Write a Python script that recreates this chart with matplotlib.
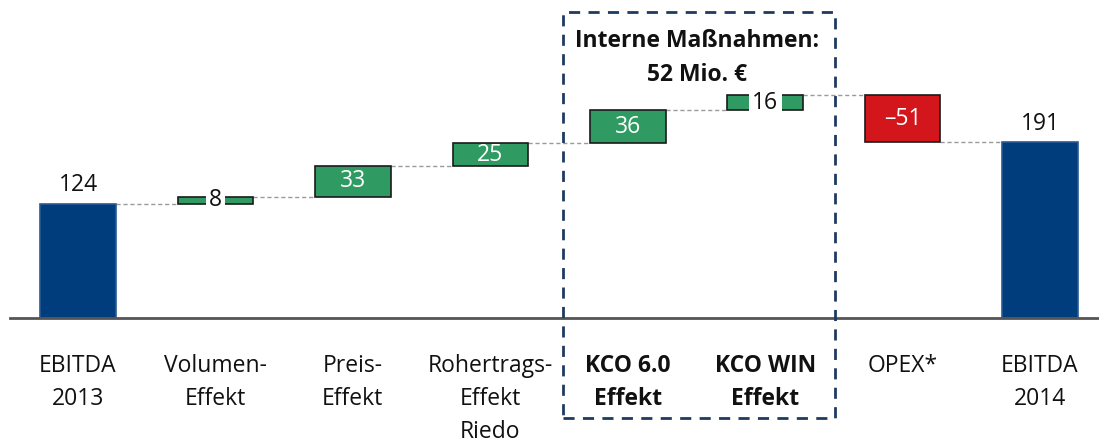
import matplotlib.pyplot as plt
from matplotlib.patches import Rectangle

# waterfall data
labels = ['EBITDA\n2013', 'Volumen-\nEffekt', 'Preis-\nEffekt', 'Rohertrags-\nEffekt\nRiedo',
          'KCO 6.0\nEffekt', 'KCO WIN\nEffekt', 'OPEX*', 'EBITDA\n2014']
values = [124, 8, 33, 25, 36, 16, -51, 191]
kinds = ['total', 'delta', 'delta', 'delta', 'delta', 'delta', 'delta', 'total']
value_text = ['124', '8', '33', '25', '36', '16', '\u201351', '191']
bold_ticks = [4, 5]
box_title = 'Interne Maßnahmen:\n52 Mio. €'

BLUE = '#003d7c'
GREEN = '#2f9a62'
RED = '#d2161c'
NAVY = '#1f3a60'

plt.rcParams['font.family'] = ['Open Sans', 'DejaVu Sans']

fig = plt.figure(figsize=(10.99, 4.43), dpi=100)
ax = fig.add_axes([0, 125 / 443, 1, 318 / 443])
ax.set_xlim(-0.5676, 7.429)
ax.set_ylim(0, 345.6)
for s in ax.spines.values():
    s.set_visible(False)
ax.set_yticks([])

w = 0.55
running = 0
levels = []
for i, (v, k) in enumerate(zip(values, kinds)):
    if k == 'total':
        bottom, height = 0, v
        color, ec = BLUE, '#2a5a94'
        running = v
    else:
        bottom = running if v > 0 else running + v
        height = abs(v)
        color = GREEN if v > 0 else RED
        ec = '#1a1a1a'
        running += v
    ax.bar(i, height, bottom=bottom, width=w, color=color, edgecolor=ec, linewidth=1.2, zorder=2)
    levels.append(running)

    top = bottom + height
    if k == 'total':
        ax.text(i, top + 7, value_text[i], ha='center', va='bottom', fontsize=16.5, color='#111111')
    elif height < 20:
        ax.text(i, bottom + height / 2, value_text[i], ha='center', va='center', fontsize=16.5,
                color='#111111', zorder=3,
                bbox=dict(boxstyle='square,pad=0.15', fc='white', ec='none'))
    else:
        ax.text(i, bottom + height / 2, value_text[i], ha='center', va='center', fontsize=16.5,
                color='white', zorder=3)

# connector lines
for i in range(len(values) - 1):
    ax.plot([i + w / 2, i + 1 - w / 2], [levels[i], levels[i]], ls=(0, (3, 2)),
            color='#9a9a9a', lw=1, zorder=1)

# baseline
ax.plot([-0.495, 7.429], [0, 0], color='#555555', lw=2, zorder=3, clip_on=False)

ax.set_xticks(range(len(labels)))
ax.set_xticklabels(labels, fontsize=16.5, linespacing=1.5, color='#111111')
ax.tick_params(axis='x', length=0, pad=26)
for j, t in enumerate(ax.get_xticklabels()):
    if j in bold_ticks:
        t.set_fontweight('bold')

# dashed box around internal measures
box = Rectangle((3.529, -108.7), 5.508 - 3.529, 332.6 + 108.7, fill=False,
                ec=NAVY, lw=2, ls=(0, (4, 3)), clip_on=False, zorder=4)
ax.add_patch(box)
ax.text(4.504, 283, box_title, ha='center', va='center', fontsize=16.5, fontweight='bold',
        linespacing=1.55, color='#111111')

fig.savefig('out.png', dpi=100)
